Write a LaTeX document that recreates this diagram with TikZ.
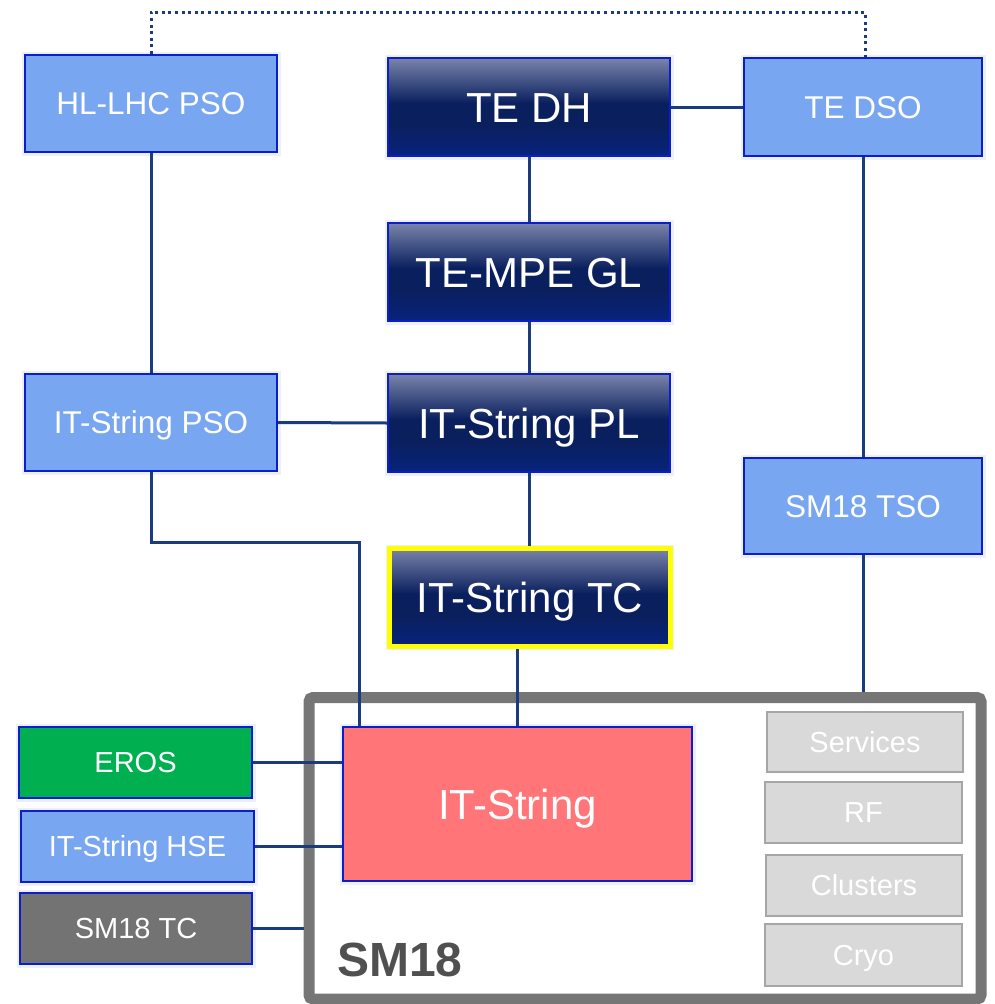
\documentclass[tikz,border=0pt]{standalone}
\usepackage{fontspec}
\setmainfont{Liberation Sans}
\definecolor{lineblue}{HTML}{1B3C7C}
\definecolor{bborder}{HTML}{0A1ECC}
\definecolor{lightfill}{HTML}{78A6F0}
\definecolor{dtop}{HTML}{7A84AA}
\definecolor{dmid}{HTML}{0A205E}
\definecolor{dbot}{HTML}{07237E}
\definecolor{redfill}{HTML}{FF7578}
\definecolor{greenfill}{HTML}{00B050}
\definecolor{tcgray}{HTML}{737373}
\definecolor{lgfill}{HTML}{D9D9D9}
\definecolor{lgborder}{HTML}{A6A6A6}
\definecolor{framegray}{HTML}{767676}
\definecolor{labelgray}{HTML}{505050}
\definecolor{glowc}{HTML}{EEF0F8}
\definecolor{tcyellow}{HTML}{FFFF00}
\pgfdeclareverticalshading{navyshade}{100bp}{color(0bp)=(dbot); color(25bp)=(dbot); color(40bp)=(dmid); color(52bp)=(dmid); color(75bp)=(dtop); color(100bp)=(dtop)}
\begin{document}
\begin{tikzpicture}[x=1pt,y=-1pt,
  glow/.style={preaction={draw=glowc, line width=7pt}},
  basebox/.style={rectangle, inner sep=0pt, text=white, glow, line width=2pt, text depth=0pt},
  lbox/.style={basebox, fill=lightfill, draw=bborder, font=\fontsize{31.5}{36}\selectfont, text height=22.6pt},
  dbox/.style={basebox, draw=bborder, shading=navyshade, font=\fontsize{42}{48}\selectfont, text height=30pt},
  sbox/.style={basebox, draw=bborder, font=\fontsize{29}{34}\selectfont, text height=20.8pt},
  gbox/.style={rectangle, inner sep=0pt, text=white, fill=lgfill, draw=lgborder, line width=2pt, font=\fontsize{29}{34}\selectfont, text height=20.8pt, text depth=0pt},
  conn/.style={draw=lineblue, line width=3pt},
  dotline/.style={draw=lineblue, line width=3pt, dash pattern=on 3pt off 3.6pt}
]
\useasboundingbox (0,0) rectangle (994,1004);
% SM18 frame
\node[rectangle, draw=framegray, line width=11pt, rounded corners=4pt, minimum width=672pt, minimum height=301.5pt, inner sep=0pt] (frame) at (645,848.25) {};
\node[anchor=base west, text=labelgray, font=\fontsize{48}{54}\selectfont\bfseries, inner sep=0pt] (sm18lbl) at (337,976) {SM18};
% boxes
\node[lbox, minimum width=252pt, minimum height=97pt] (hl) at (151,103.5) {HL-LHC PSO};
\node[dbox, minimum width=282pt, minimum height=98pt] (tedh) at (529,107) {TE DH};
\node[lbox, minimum width=238pt, minimum height=98pt] (tedso) at (863,107) {TE DSO};
\node[dbox, minimum width=282pt, minimum height=98pt] (mpe) at (529,272) {TE-MPE GL};
\node[lbox, minimum width=252pt, minimum height=97pt] (pso) at (151,422.5) {IT-String PSO};
\node[dbox, minimum width=282pt, minimum height=98pt] (pl) at (529,423) {IT-String PL};
\node[lbox, minimum width=238pt, minimum height=96pt] (tso) at (863,506) {SM18 TSO};
\node[dbox, draw=tcyellow, line width=5pt, minimum width=281pt, minimum height=98pt] (tc) at (530,597.5) {IT-String TC};
\node[sbox, fill=redfill, minimum width=349pt, minimum height=154pt, font=\fontsize{42}{48}\selectfont, text height=30pt] (its) at (517.5,804) {IT-String};
\node[sbox, fill=greenfill, minimum width=233pt, minimum height=71pt] (eros) at (135.5,762.5) {EROS};
\node[sbox, fill=lightfill, minimum width=233pt, minimum height=71pt] (hse) at (137.5,846.5) {IT-String HSE};
\node[sbox, fill=tcgray, minimum width=232pt, minimum height=71pt] (smtc) at (136,928.5) {SM18 TC};
\node[gbox, minimum width=196pt, minimum height=60pt] (serv) at (865,742) {Services};
\node[gbox, minimum width=197pt, minimum height=61pt] (rf) at (863.5,812.5) {RF};
\node[gbox, minimum width=196pt, minimum height=61pt] (clus) at (864,885.5) {Clusters};
\node[gbox, minimum width=197pt, minimum height=62pt] (cryo) at (863.5,955) {Cryo};
% connectors
\coordinate (dtr) at (865,12);
\coordinate (bend) at (359,542);
\draw[dotline] (hl.north) |- (dtr) -- (dtr |- tedso.north);
\draw[conn] (hl.south) -- (pso.north);
\draw[conn] (tedh.east) -- (tedso.west);
\draw[conn] (tedh.south) -- (mpe.north);
\draw[conn] (mpe.south) -- (pl.north);
\draw[conn] (pso.east) -- (pl.west);
\draw[conn] (pl.south) -- (pl.south |- tc.north);
\draw[conn] (tedso.south) -- (tso.north);
\draw[conn] (tso.south) -- (tso.south |- frame.north);
\draw[conn] (pso.south) |- (bend) -- (bend |- its.north);
\draw[conn] (its.north |- tc.south) -- (its.north);
\draw[conn] (eros.east) -- (eros.east -| its.west);
\draw[conn] (hse.east) -- (hse.east -| its.west);
\draw[conn] (smtc.east) -- (smtc.east -| frame.west);
\end{tikzpicture}
\end{document}
